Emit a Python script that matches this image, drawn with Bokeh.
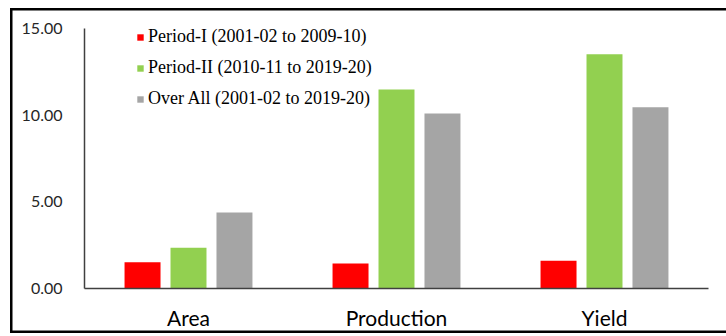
from bokeh.plotting import figure
from bokeh.models import (ColumnDataSource, FactorRange, Legend, LegendItem,
                          NumeralTickFormatter, FixedTicker)
from bokeh.transform import dodge
from bokeh.embed import file_html
from bokeh.resources import INLINE

categories = ["Area", "Production", "Yield"]
series_names = ["Period-I (2001-02 to 2009-10)",
                "Period-II (2010-11 to 2019-20)",
                "Over All (2001-02 to 2019-20)"]
period1 = [1.52, 1.44, 1.60]
period2 = [2.35, 11.48, 13.52]
overall = [4.39, 10.10, 10.45]
y_ticks = [0, 5, 10, 15]
colors = ["#FF0000", "#92D050", "#A5A5A5"]

source = ColumnDataSource(dict(cat=categories, p1=period1, p2=period2, ov=overall))

p = figure(width=716, height=325, x_range=FactorRange(*categories, range_padding=0),
           y_range=(0, 15.923), output_backend="svg", toolbar_location=None,
           min_border_left=74, min_border_right=18, min_border_top=4,
           min_border_bottom=45)
p.margin = (8, 0, 0, 10)
p.styles = {"box-shadow": "inset 2.5px 2.5px 0 0 #000000, inset 0 -2.5px 0 0 #000000"}
p.border_fill_alpha = 0
p.background_fill_alpha = 0
p.outline_line_color = None
p.xgrid.grid_line_color = None
p.ygrid.grid_line_color = None

offsets = [-0.221, 0.0, 0.221]
renderers = []
for key, off, col in zip(["p1", "p2", "ov"], offsets, colors):
    r = p.vbar(x=dodge("cat", off, range=p.x_range), top=key, width=0.173,
               source=source, fill_color=col, line_color=None)
    renderers.append(r)

items = [LegendItem(label=name, renderers=[r]) for name, r in zip(series_names, renderers)]
legend = Legend(items=items, location=(52, 179), glyph_width=8, glyph_height=8,
                label_height=8, spacing=10, label_standoff=4, padding=0, margin=0,
                border_line_color=None, background_fill_alpha=0,
                label_text_font="Liberation Serif", label_text_font_size="18px",
                label_text_color="#000000")
p.add_layout(legend, "center")

p.yaxis.ticker = FixedTicker(ticks=y_ticks)
p.yaxis.bounds = (0, 15)
p.yaxis.formatter = NumeralTickFormatter(format="0.00")
p.yaxis.major_tick_line_color = None
p.yaxis.minor_tick_line_color = None
p.yaxis.axis_line_color = "#404040"
p.yaxis.axis_line_width = 1.5
p.yaxis.major_label_standoff = 16
p.yaxis.major_label_text_font = "Lato"
p.yaxis.major_label_text_font_size = "16px"
p.yaxis.major_label_text_color = "#262626"

p.xaxis.major_tick_line_color = None
p.xaxis.axis_line_color = "#404040"
p.xaxis.axis_line_width = 1.5
p.xaxis.major_label_standoff = 10
p.xaxis.major_label_text_font = "Lato"
p.xaxis.major_label_text_font_size = "21px"
p.xaxis.major_label_text_color = "#000000"

open("out.html", "w").write(file_html(p, INLINE))
